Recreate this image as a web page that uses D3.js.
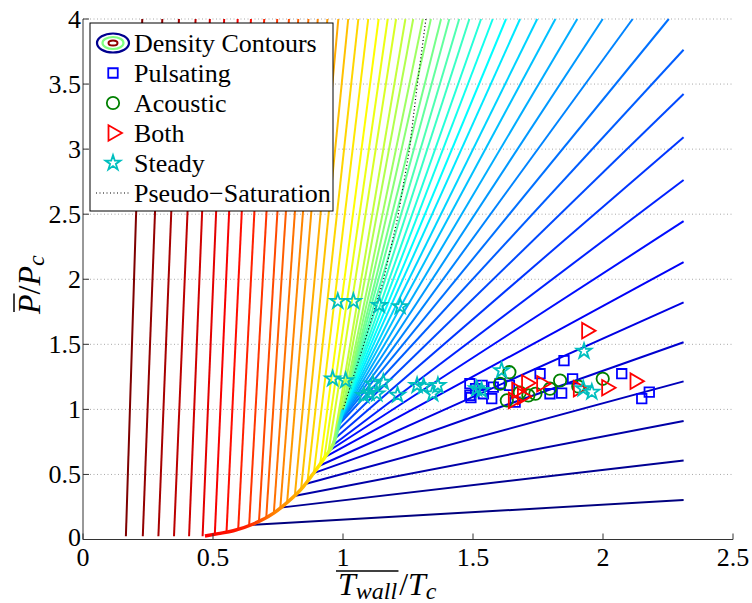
<!DOCTYPE html>
<html>
<head>
<meta charset="utf-8">
<script src="https://cdn.jsdelivr.net/npm/d3@7"></script>
<style>
  body { margin: 0; background: #fff; }
  svg { display: block; }
  svg text { font-family: "Liberation Serif", "Nimbus Roman", "Times New Roman", Times, "DejaVu Serif", serif; }
</style>
</head>
<body>
<div id="chart"></div>
<script>
// density contour levels, ordered from lowest (1) to highest (52) density
const contourStartT = [
  0.642, 0.76, 0.812, 0.855, 0.887, 0.907, 0.93, 0.945, 0.958, 0.968, 0.976, 0.983,
  0.986, 0.987, 0.988, 0.989, 0.990, 0.991, 0.992, 0.993, 0.994, 0.995, 0.996, 0.997, 0.998, 0.999,
  1.0,
  0.989, 0.974, 0.963, 0.944, 0.928, 0.912, 0.888, 0.864, 0.839, 0.815, 0.785, 0.759, 0.734, 0.705, 0.677, 0.639, 0.597, 0.552, 0.507,
  0.46, 0.408, 0.35, 0.29, 0.23, 0.165
];
const contourStartP = [
  0.112, 0.245, 0.335, 0.427, 0.51, 0.565, 0.633, 0.68, 0.72, 0.775, 0.83, 0.88,
  0.90, 0.908, 0.915, 0.922, 0.929, 0.936, 0.943, 0.95, 0.957, 0.964, 0.972, 0.979, 0.986, 0.993,
  1.0,
  0.92, 0.816, 0.737, 0.676, 0.625, 0.58, 0.513, 0.45, 0.39, 0.34, 0.285, 0.244, 0.204, 0.172, 0.142, 0.108, 0.08, 0.057, 0.04,
  0.025, 0.025, 0.025, 0.025, 0.025, 0.025
];
const contourEndT = [
  2.31, 2.31, 2.31, 2.31, 2.31, 2.31, 2.31, 2.31, 2.31, 2.31, 2.31, 2.31,
  2.253, 2.114, 1.999, 1.901, 1.817, 1.747, 1.681, 1.627, 1.576, 1.531, 1.486, 1.447, 1.409, 1.377,
  1.338,
  1.307, 1.270, 1.240, 1.204, 1.172, 1.137, 1.097, 1.059, 1.020, 0.982, 0.940, 0.903, 0.867, 0.828, 0.792, 0.747, 0.697, 0.646, 0.595,
  0.543, 0.488, 0.433, 0.369, 0.305, 0.228
];
const contourEndP = [
  0.303, 0.607, 0.910, 1.215, 1.516, 1.822, 2.132, 2.446, 2.763, 3.092, 3.424, 3.764,
  4, 4, 4, 4, 4, 4, 4, 4, 4, 4, 4, 4, 4, 4,
  4,
  4, 4, 4, 4, 4, 4, 4, 4, 4, 4, 4, 4, 4, 4, 4, 4, 4, 4, 4,
  4, 4, 4, 4, 4, 4
];

// saturation curve up to the critical point
const satT = [0.469, 0.52, 0.578, 0.655, 0.732, 0.796, 0.847, 0.886, 0.931, 0.963, 1.0];
const satP = [0.027, 0.045, 0.067, 0.119, 0.201, 0.303, 0.405, 0.507, 0.634, 0.737, 1.0];

// pseudo-saturation (dotted) line
const pseudoT = [1.0, 1.08, 1.155, 1.21, 1.255, 1.286, 1.319];
const pseudoP = [1.0, 1.5, 1.99, 2.47, 2.99, 3.5, 4.0];

// experiments
const pulsatingT = [1.488, 1.488, 1.492, 1.51, 1.535, 1.54, 1.572, 1.578, 1.604, 1.64, 1.662, 1.758, 1.796, 1.841, 1.85, 1.883, 2.072, 2.149, 2.178];
const pulsatingP = [1.197, 1.107, 1.09, 1.16, 1.184, 1.12, 1.082, 1.171, 1.197, 1.184, 1.056, 1.274, 1.12, 1.125, 1.375, 1.235, 1.274, 1.082, 1.133];
const acousticT = [1.604, 1.64, 1.63, 1.68, 1.713, 1.74, 1.796, 1.835, 1.905, 1.999];
const acousticP = [1.197, 1.286, 1.069, 1.13, 1.107, 1.12, 1.159, 1.222, 1.176, 1.235];
const bothT = [1.655, 1.668, 1.69, 1.706, 1.764, 1.905, 1.937, 2.014, 2.123];
const bothP = [1.069, 1.146, 1.1, 1.202, 1.197, 1.159, 1.605, 1.166, 1.217];
const steadyT = [0.98, 1.04, 1.14, 1.22, 0.96, 1.01, 1.08, 1.10, 1.13, 1.115, 1.155, 1.21, 1.285, 1.31, 1.345, 1.365, 1.514, 1.533, 1.61, 1.927, 1.924, 1.957];
const steadyP = [1.83, 1.83, 1.80, 1.79, 1.235, 1.222, 1.107, 1.125, 1.12, 1.197, 1.209, 1.11, 1.184, 1.176, 1.12, 1.184, 1.159, 1.146, 1.299, 1.447, 1.159, 1.133];

const xTicks = [0, 0.5, 1, 1.5, 2, 2.5];
const yTicks = [0, 0.5, 1, 1.5, 2, 2.5, 3, 3.5, 4];

const width = 752, height = 603;
const x = d3.scaleLinear().domain([0, 2.5]).range([83, 733]);
const y = d3.scaleLinear().domain([0, 4]).range([539.5, 19]);

// matlab jet
const jet = d3.scaleLinear()
  .domain([0, 0.125, 0.375, 0.625, 0.875, 1])
  .range(["#00007f", "#0000ff", "#00ffff", "#ffff00", "#ff0000", "#7f0000"]);
const level = d3.scaleLinear().domain([0, contourStartT.length - 1]).range([0, 1]);

const svg = d3.select("#chart").append("svg")
  .attr("width", width)
  .attr("height", height);

// grid
svg.append("g")
  .selectAll("line")
  .data(yTicks.filter(d => d > 0))
  .join("line")
  .attr("x1", x(0)).attr("x2", x(2.5))
  .attr("y1", d => y(d)).attr("y2", d => y(d))
  .attr("stroke", "#a8a8a8")
  .attr("stroke-width", 1)
  .attr("stroke-dasharray", "1,2.5");

// contour lines
const contours = contourStartT.map((t, i) => [
  [t, contourStartP[i]],
  [contourEndT[i], contourEndP[i]]
]);
const line = d3.line().x(d => x(d[0])).y(d => y(d[1]));

svg.append("g")
  .selectAll("path")
  .data(contours)
  .join("path")
  .attr("d", line)
  .attr("fill", "none")
  .attr("stroke", (d, i) => jet(level(i)))
  .attr("stroke-width", 2);

// saturation curve, colored along T
const grad = svg.append("defs").append("linearGradient")
  .attr("id", "satgrad")
  .attr("gradientUnits", "userSpaceOnUse")
  .attr("x1", x(0.469)).attr("x2", x(1.0))
  .attr("y1", 0).attr("y2", 0);
[[0, "#ff0000"], [0.3, "#ff2000"], [0.5, "#ff8000"], [0.75, "#ffc000"], [0.87, "#ffff00"], [0.95, "#80ff80"], [1, "#00e0ff"]]
  .forEach(s => grad.append("stop").attr("offset", s[0]).attr("stop-color", s[1]));

const sat = satT.map((t, i) => [t, satP[i]]);
svg.append("path")
  .datum(sat)
  .attr("d", line.curve(d3.curveMonotoneX))
  .attr("fill", "none")
  .attr("stroke", "url(#satgrad)")
  .attr("stroke-width", 3.5);
line.curve(d3.curveLinear);

// pseudo-saturation
svg.append("path")
  .datum(pseudoT.map((t, i) => [t, pseudoP[i]]))
  .attr("d", line)
  .attr("fill", "none")
  .attr("stroke", "#000")
  .attr("stroke-width", 1.2)
  .attr("stroke-dasharray", "1,2.5");

// axes
const xAxis = svg.append("g");
xAxis.append("line")
  .attr("x1", x(0)).attr("x2", x(2.5))
  .attr("y1", y(0)).attr("y2", y(0))
  .attr("stroke", "#333").attr("stroke-width", 1);
xAxis.selectAll(".tick")
  .data(xTicks)
  .join("line")
  .attr("x1", d => x(d)).attr("x2", d => x(d))
  .attr("y1", y(0)).attr("y2", y(0) - 6)
  .attr("stroke", "#333");
xAxis.selectAll("text")
  .data(xTicks)
  .join("text")
  .attr("x", d => x(d))
  .attr("y", 566)
  .attr("text-anchor", "middle")
  .attr("font-size", 26)
  .text(d => String(d));

const yAxis = svg.append("g");
yAxis.append("line")
  .attr("x1", x(0)).attr("x2", x(0))
  .attr("y1", y(0)).attr("y2", y(4))
  .attr("stroke", "#333").attr("stroke-width", 1);
yAxis.selectAll(".tick")
  .data(yTicks)
  .join("line")
  .attr("x1", x(0)).attr("x2", x(0) + 6)
  .attr("y1", d => y(d)).attr("y2", d => y(d))
  .attr("stroke", "#333");
yAxis.selectAll("text")
  .data(yTicks)
  .join("text")
  .attr("x", 81)
  .attr("y", d => y(d) + (d === 0 ? 6 : 9))
  .attr("text-anchor", "end")
  .attr("font-size", 26)
  .text(d => String(d));

// axis labels: overline T_wall / T_c
const xl = svg.append("text")
  .attr("x", 338).attr("y", 595)
  .attr("font-size", 32)
  .attr("font-style", "italic");
xl.append("tspan").text("T");
const sub = xl.append("tspan").attr("font-size", 24).attr("dy", 4).text("wall");
xl.append("tspan").attr("font-style", "normal").attr("dy", -4).attr("dx", 2).text("/");
xl.append("tspan").text("T");
xl.append("tspan").attr("font-size", 24).attr("dy", 4).text("c");
const subBox = sub.node().getBBox();
svg.append("line")
  .attr("x1", 336).attr("x2", subBox.x + subBox.width + 1)
  .attr("y1", 571).attr("y2", 571)
  .attr("stroke", "#000").attr("stroke-width", 1.5);

// overline P / P_c, rotated
const yl = svg.append("g").attr("transform", "translate(40,314) rotate(-90)");
const ylt = yl.append("text")
  .attr("x", 0).attr("y", 0)
  .attr("font-size", 32)
  .attr("font-style", "italic");
const pFirst = ylt.append("tspan").text("P");
ylt.append("tspan").attr("font-style", "normal").text("/");
ylt.append("tspan").text("P");
ylt.append("tspan").attr("font-size", 24).attr("dy", 4).text("c");
const pw = pFirst.node().getComputedTextLength();
yl.append("line")
  .attr("x1", 2).attr("x2", pw + 1)
  .attr("y1", -26).attr("y2", -26)
  .attr("stroke", "#000").attr("stroke-width", 1.5);

// markers
const sym = (type, size) => d3.symbol().type(type).size(size)();
function markers(ts, ps, path, stroke, rot) {
  svg.append("g")
    .selectAll("path")
    .data(ts.map((t, i) => [t, ps[i]]))
    .join("path")
    .attr("d", path)
    .attr("transform", d => `translate(${x(d[0])},${y(d[1])}) rotate(${rot})`)
    .attr("fill", "none")
    .attr("stroke", stroke)
    .attr("stroke-width", 1.8);
}
const squarePath = sym(d3.symbolSquare, 90);
const circlePath = sym(d3.symbolCircle, 120);
const triPath = sym(d3.symbolTriangle, 105);
const starPath = sym(d3.symbolStar, 70);

markers(pulsatingT, pulsatingP, squarePath, "#0000ff", 0);
markers(acousticT, acousticP, circlePath, "#008000", 0);
markers(bothT, bothP, triPath, "#ff0000", 90);
markers(steadyT, steadyP, starPath, "#00bfbf", 0);

// legend
const lg = svg.append("g");
lg.append("rect")
  .attr("x", 90).attr("y", 23)
  .attr("width", 243).attr("height", 188)
  .attr("fill", "#fff")
  .attr("stroke", "#000").attr("stroke-width", 1);

const legendItems = ["Density Contours", "Pulsating", "Acoustic", "Both", "Steady", "Pseudo\u2212Saturation"];
lg.selectAll("text")
  .data(legendItems)
  .join("text")
  .attr("x", 134)
  .attr("y", (d, i) => 52 + i * 30)
  .attr("font-size", 26)
  .text(d => d);

lg.append("ellipse").attr("cx", 113).attr("cy", 43).attr("rx", 16).attr("ry", 9.5)
  .attr("fill", "none").attr("stroke", "#00008f").attr("stroke-width", 2.2);
lg.append("ellipse").attr("cx", 113).attr("cy", 43).attr("rx", 10.5).attr("ry", 6)
  .attr("fill", "none").attr("stroke", "#80ff80").attr("stroke-width", 2.2);
lg.append("ellipse").attr("cx", 113).attr("cy", 43).attr("rx", 4.5).attr("ry", 2.6)
  .attr("fill", "none").attr("stroke", "#8f0000").attr("stroke-width", 2);

const legendMarks = [[squarePath, "#0000ff", 0, 73], [circlePath, "#008000", 0, 103], [triPath, "#ff0000", 90, 133], [starPath, "#00bfbf", 0, 163]];
lg.selectAll("path")
  .data(legendMarks)
  .join("path")
  .attr("d", d => d[0])
  .attr("transform", d => `translate(113,${d[3]}) rotate(${d[2]})`)
  .attr("fill", "none")
  .attr("stroke", d => d[1])
  .attr("stroke-width", 1.8);
lg.append("line")
  .attr("x1", 96).attr("x2", 130)
  .attr("y1", 193).attr("y2", 193)
  .attr("stroke", "#000").attr("stroke-width", 1.2)
  .attr("stroke-dasharray", "1,2.5");
</script>
</body>
</html>
